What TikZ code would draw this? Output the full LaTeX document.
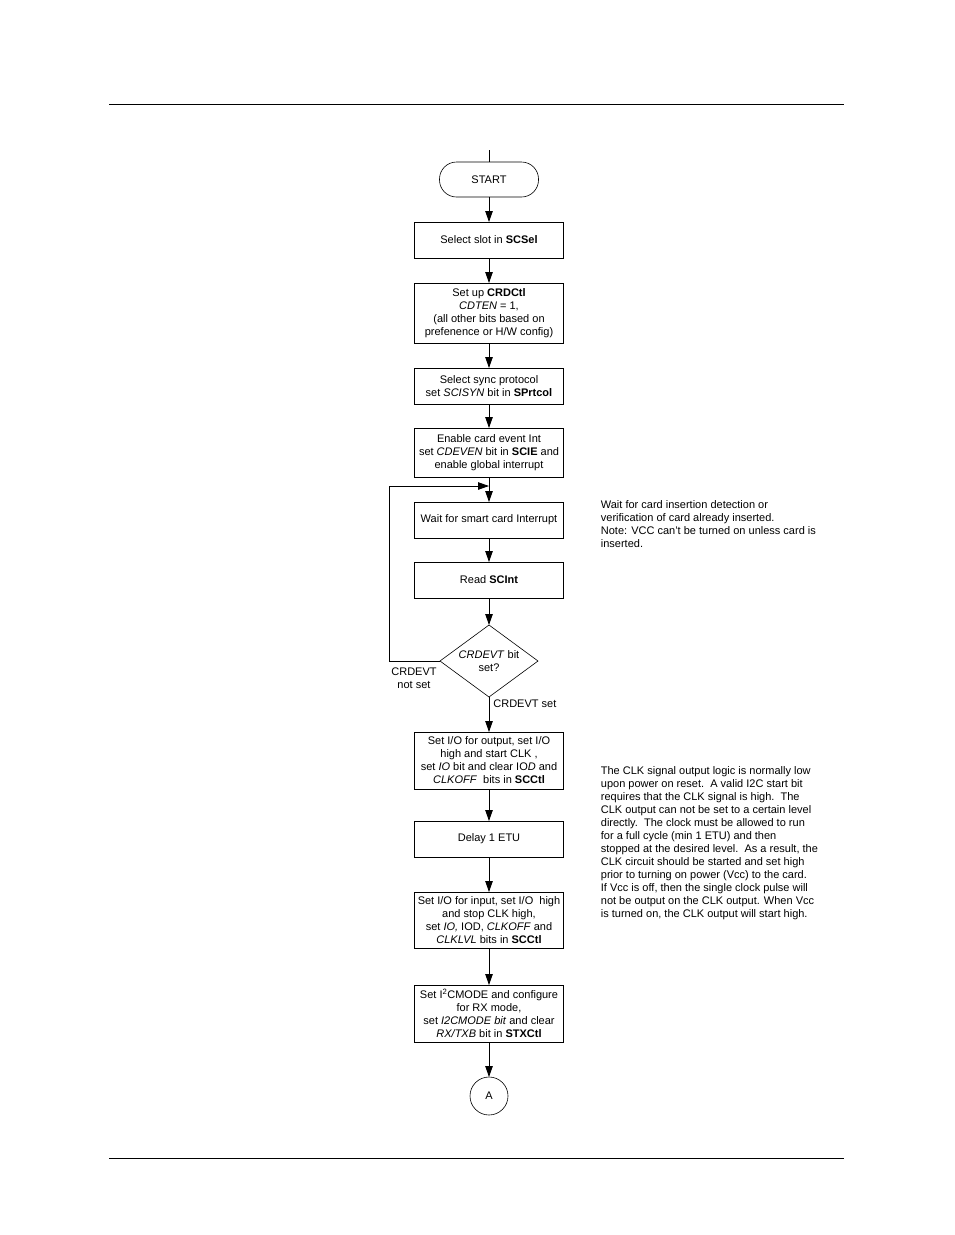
\documentclass[tikz,border=0pt]{standalone}
\usepackage{fontspec}
\setmainfont{Liberation Sans}
\usetikzlibrary{positioning, arrows.meta, shapes.geometric}
\newcommand{\flowarrow}{-{Triangle[length=11pt,width=7.5pt]}}
\newcommand{\flowfont}{\fontsize{11}{13}\selectfont}
\tikzset{
  procbox/.style={draw, line width=0.8pt, outer sep=0pt, minimum width=149pt, minimum height=36pt,
    inner sep=1pt, align=center, font=\flowfont},
  termbox/.style={draw, line width=0.6pt, outer sep=0pt, rounded corners=17pt, minimum width=99pt,
    minimum height=35pt, font=\flowfont},
  decbox/.style={draw, diamond, aspect=1.36, line width=0.6pt, outer sep=0pt, inner sep=0pt,
    minimum width=98pt, minimum height=72pt, align=center, font=\flowfont},
  connbox/.style={draw, circle, line width=0.6pt, outer sep=0pt, minimum size=38pt, inner sep=0pt, font=\flowfont},
  lbl/.style={inner sep=0pt, align=center, font=\flowfont},
  note/.style={inner sep=0pt, align=left, font=\flowfont},
}

\begin{document}
\begin{tikzpicture}[x=1pt, y=1pt, line width=0.8pt]
    \useasboundingbox (0,0) rectangle (954,-1235);
    % page rules
    \draw (109,-104) -- (844,-104);
    \draw (109,-1158) -- (844,-1158);

    \node[termbox] (start) at (489,-179.5) {START};
    \coordinate (entry) at ([yshift=12pt]start.north);
    \node[procbox, below=25pt of start] (slot) {Select slot in \textbf{SCSel}};
    \node[procbox, minimum height=60pt, below=25pt of slot] (crd)
        {Set up \textbf{CRDCtl}\\\textit{CDTEN} = 1,\\(all other bits based on\\prefenence or H/W config)};
    \node[procbox, below=25pt of crd] (sync)
        {Select sync protocol\\set \textit{SCISYN} bit in \textbf{SPrtcol}};
    \node[procbox, minimum height=49pt, below=24pt of sync] (cdev)
        {Enable card event Int\\set \textit{CDEVEN} bit in \textbf{SCIE} and\\enable global interrupt};
    \node[procbox, below=25pt of cdev] (wait) {Wait for smart card Interrupt};
    \node[procbox, below=24pt of wait] (read) {Read \textbf{SCInt}};
    \node[decbox, below=27pt of read] (test) {\textit{CRDEVT} bit\\set?};
    \node[procbox, minimum height=57pt, below=35pt of test] (clkon)
        {Set I/O for output, set I/O\\high and start CLK ,\\set \textit{IO} bit and clear IO\textit{D} and\\\textit{CLKOFF}\ \ bits in \textbf{SCCtl}};
    \node[procbox, below=32pt of clkon] (delay) {Delay 1 ETU};
    \node[procbox, minimum height=56pt, below=35pt of delay] (clkoff)
        {Set I/O for input, set I/O\ \ high\\and stop CLK high,\\set \textit{IO,} IOD, \textit{CLKOFF} and\\\textit{CLKLVL} bits in \textbf{SCCtl}};
    \node[procbox, minimum height=57pt, below=37pt of clkoff] (mode)
        {Set I\textsuperscript{2}CMODE and configure\\for RX mode,\\set \textit{I2CMODE bit} and clear\\\textit{RX/TXB} bit in \textbf{STXCtl}};
    \node[connbox, below=35pt of mode] (A) {A};

    % branch labels
    \node[lbl, anchor=north] (notset) at ([xshift=-26pt,yshift=-6pt]test.west) {CRDEVT\\not set};
    \node[lbl, anchor=west] (isset) at ([xshift=4pt,yshift=-7pt]test.south) {CRDEVT set};

    % side notes
    \node[note, anchor=north west] (note1) at ([xshift=37pt,yshift=2pt]wait.north east)
        {Wait for card insertion detection or\\verification of card already inserted.\\Note: VCC can't be turned on unless card is\\inserted.};
    \node[note, anchor=west] (note2) at ([xshift=37pt,yshift=-4pt]delay.east)
        {The CLK signal output logic is normally low\\upon power on reset.\ \ A valid I2C start bit\\requires that the CLK signal is high.\ \ The\\CLK output can not be set to a certain level\\directly.\ \ The clock must be allowed to run\\for a full cycle (min 1 ETU) and then\\stopped at the desired level.\ \ As a result, the\\CLK circuit should be started and set high\\prior to turning on power (Vcc) to the card.\\If Vcc is off, then the single clock pulse will\\not be output on the CLK output. When Vcc\\is turned on, the CLK output will start high.};

    % connectors
    \coordinate (back) at ([yshift=-9pt]cdev.south);
    \draw (entry) -- (start);
    \draw[\flowarrow] (start) -- (slot);
    \draw[\flowarrow] (slot) -- (crd);
    \draw[\flowarrow] (crd) -- (sync);
    \draw[\flowarrow] (sync) -- (cdev);
    \draw[\flowarrow] (cdev) -- (wait);
    \draw[\flowarrow] (wait) -- (read);
    \draw[\flowarrow] (read) -- (test);
    \draw[\flowarrow] (test.west) -- ++(-51pt,0) |- (back);
    \draw[\flowarrow] (test) -- (clkon);
    \draw[\flowarrow] (clkon) -- (delay);
    \draw[\flowarrow] (delay) -- (clkoff);
    \draw[\flowarrow] (clkoff) -- (mode);
    \draw[\flowarrow] (mode) -- (A);
\end{tikzpicture}
\end{document}
